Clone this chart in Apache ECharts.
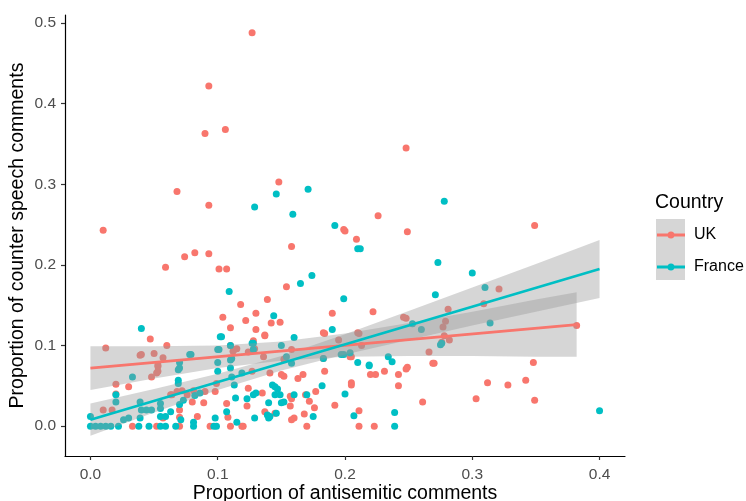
<!DOCTYPE html>
<html>
<head>
<meta charset="utf-8">
<script src="https://cdn.jsdelivr.net/npm/echarts@6/dist/echarts.min.js"></script>
<style>html,body{margin:0;padding:0;background:#fff}#c{width:746px;height:501px}</style>
</head>
<body>
<div id="c"></div>
<script>
// ---- data ----
const xTicks = [0, 0.1, 0.2, 0.3, 0.4];
const yTicks = [0, 0.1, 0.2, 0.3, 0.4, 0.5];
const countries = ['UK', 'France'];

const ukPoints = [
[0.127,0.488],[0.093,0.422],[0.090,0.363],[0.106,0.368],[0.148,0.303],[0.068,0.291],[0.093,0.274],[0.010,0.243],[0.199,0.244],
[0.248,0.345],[0.226,0.261],[0.349,0.249],[0.249,0.241],
[0.059,0.197],[0.074,0.210],[0.082,0.215],[0.093,0.214],[0.101,0.195],[0.107,0.195],[0.118,0.151],[0.130,0.140],[0.104,0.135],[0.122,0.131],[0.130,0.120],[0.110,0.122],[0.047,0.108],[0.060,0.100],[0.012,0.097],[0.040,0.089],[0.050,0.090],[0.057,0.085],[0.115,0.096],[0.112,0.093],[0.124,0.092],[0.128,0.095],[0.053,0.074],
[0.200,0.242],[0.209,0.232],[0.158,0.223],[0.154,0.173],[0.139,0.157],[0.222,0.142],[0.190,0.140],[0.142,0.128],[0.149,0.129],[0.137,0.112],[0.184,0.115],[0.195,0.107],[0.211,0.115],[0.246,0.135],[0.248,0.134],[0.277,0.123],[0.281,0.145],[0.128,0.106],[0.158,0.095],[0.152,0.083],[0.136,0.086],[0.205,0.086],[0.213,0.100],[0.266,0.092],[0.249,0.073],[0.270,0.078],[0.276,0.104],[0.278,0.112],
[0.321,0.170],[0.309,0.152],[0.279,0.130],[0.382,0.125],[0.282,0.107],[0.348,0.079],
[0.033,0.000],[0.052,0.000],[0.070,0.000],[0.094,0.000],[0.110,0.000],[0.119,0.000],
[0.057,0.010],[0.070,0.011],[0.084,0.012],[0.108,0.011],
[0.010,0.020],[0.017,0.020],[0.070,0.020],[0.107,0.028],[0.123,0.025],
[0.063,0.039],[0.080,0.030],[0.089,0.029],
[0.020,0.040],[0.020,0.052],[0.030,0.049],[0.039,0.088],[0.053,0.076],[0.053,0.068],[0.048,0.061],[0.052,0.066],
[0.099,0.053],[0.098,0.043],[0.090,0.043],[0.081,0.044],[0.076,0.039],[0.072,0.044],[0.068,0.043],[0.064,0.039],
[0.110,0.100],[0.113,0.095],
[0.137,0.113],[0.183,0.116],[0.129,0.096],[0.183,0.084],[0.210,0.116],[0.204,0.086],[0.248,0.071],[0.242,0.064],[0.242,0.050],[0.231,0.068],[0.224,0.064],[0.220,0.064],[0.205,0.054],[0.205,0.051],[0.192,0.026],[0.177,0.043],[0.172,0.031],[0.176,0.023],[0.184,0.068],[0.167,0.064],[0.163,0.059],[0.152,0.062],[0.150,0.064],[0.158,0.034],[0.124,0.047],[0.135,0.041],[0.137,0.018],[0.145,0.016],[0.157,0.025],[0.160,0.010],[0.158,0.008],[0.168,0.015],[0.170,0.000],[0.211,0.019],[0.211,0.000],[0.223,0.000],[0.120,0.000],[0.127,0.068],[0.141,0.066],[0.157,0.037],[0.169,0.039],
[0.269,0.078],[0.261,0.030],
[0.312,0.054],[0.328,0.051],[0.342,0.057],[0.303,0.034],[0.349,0.032]
];

const francePoints = [
[0.129,0.272],[0.146,0.288],[0.171,0.294],[0.159,0.263],[0.192,0.249],[0.278,0.279],
[0.109,0.167],[0.040,0.121],[0.103,0.111],[0.127,0.103],[0.110,0.100],[0.079,0.089],[0.101,0.095],[0.070,0.079],[0.100,0.079],[0.110,0.082],[0.070,0.072],[0.110,0.072],
[0.210,0.220],[0.212,0.220],[0.273,0.203],[0.174,0.187],[0.165,0.177],[0.271,0.163],[0.199,0.158],[0.144,0.137],[0.190,0.120],[0.160,0.110],[0.253,0.127],[0.260,0.120],[0.128,0.095],[0.150,0.100],[0.154,0.086],[0.183,0.084],[0.199,0.089],[0.204,0.091],[0.158,0.078],[0.234,0.086],[0.237,0.080],[0.210,0.079],[0.219,0.075],[0.275,0.101],
[0.300,0.190],[0.310,0.172],[0.314,0.128],[0.276,0.103],[0.400,0.019],
[0.000,0.000],[0.004,0.000],[0.008,0.000],[0.012,0.000],[0.016,0.000],[0.022,0.000],[0.038,0.000],[0.046,0.000],[0.055,0.000],[0.059,0.000],[0.067,0.000],[0.081,0.000],[0.097,0.000],[0.099,0.000],
[0.000,0.012],[0.026,0.008],[0.030,0.010],[0.039,0.010],[0.055,0.012],[0.059,0.012],[0.071,0.008],[0.081,0.005],[0.098,0.010],[0.115,0.005],[0.107,0.018],
[0.040,0.020],[0.044,0.020],[0.048,0.020],[0.055,0.022],[0.063,0.018],
[0.020,0.030],[0.039,0.030],[0.055,0.028],[0.070,0.027],[0.073,0.032],[0.082,0.038],[0.086,0.041],[0.114,0.035],[0.123,0.034],
[0.033,0.061],[0.069,0.070],[0.069,0.057],[0.069,0.053],[0.078,0.089],[0.102,0.111],[0.100,0.095],[0.100,0.068],[0.111,0.084],[0.111,0.061],[0.113,0.051],[0.020,0.039],
[0.128,0.103],[0.182,0.050],[0.170,0.039],[0.200,0.040],[0.160,0.039],[0.150,0.029],[0.140,0.029],[0.143,0.051],[0.145,0.049],[0.147,0.046],[0.149,0.039],[0.145,0.039],[0.128,0.039],[0.130,0.041],[0.129,0.010],[0.139,0.014],[0.140,0.010],[0.175,0.012],[0.207,0.013],[0.239,0.017],[0.239,0.000],[0.119,0.066],[0.141,0.012],[0.146,0.016],[0.152,0.030],[0.197,0.089],[0.219,0.076]
];

// fitted lines (end points)
const ukFit = [[0, 0.072], [0.382, 0.126]];
const franceFit = [[0, 0.008], [0.4, 0.195]];

// confidence bands
const ukBandX     = [0, 0.05, 0.1, 0.15, 0.2, 0.25, 0.3, 0.35, 0.382];
const ukBandLow   = [0.045, 0.059, 0.072, 0.081, 0.086, 0.087, 0.087, 0.086, 0.086];
const ukBandHigh  = [0.099, 0.099, 0.100, 0.105, 0.115, 0.128, 0.142, 0.157, 0.166];
const frBandX     = [0, 0.05, 0.1, 0.15, 0.2, 0.25, 0.3, 0.35, 0.4];
const frBandLow   = [-0.012, 0.017, 0.045, 0.069, 0.089, 0.107, 0.125, 0.142, 0.159];
const frBandHigh  = [0.028, 0.046, 0.065, 0.087, 0.114, 0.143, 0.172, 0.201, 0.231];

// ---- chart ----
const UKC = '#F8766D', FRC = '#00BFC4';
const FONT = "'Liberation Sans', Arial, sans-serif";
const chart = echarts.init(document.getElementById('c'), null, {renderer: 'canvas'});

function bandSeries(xs, lo, hi) {
  return {
    type: 'custom', silent: true, z: 3,
    data: [[xs[0], lo[0]]],
    renderItem: function (params, api) {
      const pts = [];
      for (let i = 0; i < xs.length; i++) pts.push(api.coord([xs[i], hi[i]]));
      for (let i = xs.length - 1; i >= 0; i--) pts.push(api.coord([xs[i], lo[i]]));
      return {type: 'polygon', shape: {points: pts}, style: {fill: 'rgba(153,153,153,0.4)'}};
    }
  };
}

const icon = 'path://M0,5.5H28V8.5H0Z M14,3.5A3.5,3.5 0 1 1 13.99,3.5Z';

chart.setOption({
  animation: false,
  grid: {left: 65, top: 15, right: 121, bottom: 45, containLabel: false, outerBoundsMode: 'none'},
  xAxis: {
    type: 'value', min: -0.02, max: 0.42,
    name: 'Proportion of antisemitic comments', nameLocation: 'middle', nameGap: 28, nameMoveOverlap: false,
    nameTextStyle: {color: '#000', fontSize: 19.5, fontFamily: FONT},
    axisLine: {show: true, onZero: false, lineStyle: {color: '#000', width: 1.2}},
    axisTick: {show: true, length: 4, lineStyle: {color: '#333', width: 1.2}, customValues: xTicks},
    axisLabel: {customValues: xTicks, color: '#4D4D4D', fontSize: 15.5, fontFamily: FONT, margin: 11,
      formatter: v => v.toFixed(1)},
    splitLine: {show: false}
  },
  yAxis: {
    type: 'value', min: -0.037, max: 0.51,
    name: 'Proportion of counter speech comments', nameLocation: 'middle', nameGap: 37, nameMoveOverlap: false,
    nameTextStyle: {color: '#000', fontSize: 19.5, fontFamily: FONT},
    axisLine: {show: true, onZero: false, lineStyle: {color: '#000', width: 1.2}},
    axisTick: {show: true, length: 4, lineStyle: {color: '#333', width: 1.2}, customValues: yTicks},
    axisLabel: {customValues: yTicks, color: '#4D4D4D', fontSize: 15.5, fontFamily: FONT, margin: 9,
      formatter: v => v.toFixed(1)},
    splitLine: {show: false}
  },
  legend: {
    data: countries, orient: 'vertical', left: 657, top: 227, padding: 0,
    itemWidth: 28, itemHeight: 7, itemGap: 16, icon: icon,
    textStyle: {color: '#000', fontSize: 16, fontFamily: FONT, padding: [0, 0, 0, 4]},
    selectedMode: false
  },
  graphic: [
    {type: 'rect', z: 0, shape: {x: 656, y: 219, width: 29, height: 61}, style: {fill: '#D6D6D6'}},
    {type: 'text', z: 1, style: {text: 'Country', x: 655, y: 203, verticalAlign: 'middle',
      fill: '#000', font: "19.5px 'Liberation Sans', Arial, sans-serif"}}
  ],
  series: [
    {name: 'UK', type: 'scatter', z: 2, symbolSize: 7, data: ukPoints, itemStyle: {color: UKC, opacity: 1}},
    {name: 'France', type: 'scatter', z: 2, symbolSize: 7, data: francePoints, itemStyle: {color: FRC, opacity: 1}},
    bandSeries(ukBandX, ukBandLow, ukBandHigh),
    bandSeries(frBandX, frBandLow, frBandHigh),
    {name: 'UK', type: 'line', z: 4, showSymbol: false, data: ukFit, lineStyle: {color: UKC, width: 2.6}, itemStyle: {color: UKC}, silent: true},
    {name: 'France', type: 'line', z: 4, showSymbol: false, data: franceFit, lineStyle: {color: FRC, width: 2.6}, itemStyle: {color: FRC}, silent: true}
  ]
});
</script>
</body>
</html>
